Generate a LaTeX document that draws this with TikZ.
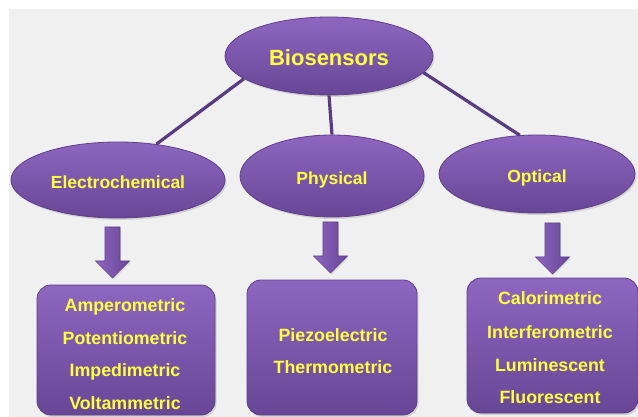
\documentclass[tikz,border=0pt]{standalone}
\usepackage{fontspec}
\setmainfont{Liberation Sans}
\usetikzlibrary{shapes.geometric,shadows}
\definecolor{bggray}{RGB}{240,240,240}
\definecolor{ptop}{RGB}{142,102,192}
\definecolor{pbot}{RGB}{104,70,150}
\definecolor{prim}{RGB}{95,62,138}
\definecolor{linecol}{RGB}{88,60,128}
\definecolor{txtyellow}{RGB}{255,255,64}
\tikzset{
  oval/.style={ellipse, draw=prim, line width=0.8pt, top color=ptop, bottom color=pbot,
    inner sep=0pt, text=txtyellow, font=\bfseries\fontsize{17.5}{20}\selectfont,
    text height=17.6pt, text depth=0pt,
    drop shadow={opacity=0.25, shadow xshift=1.5pt, shadow yshift=-2pt}},
  boxnode/.style={rectangle, rounded corners=14pt, draw=prim, line width=0.8pt,
    top color=ptop, bottom color=pbot, inner sep=0pt,
    drop shadow={opacity=0.25, shadow xshift=1.5pt, shadow yshift=-2pt}},
  itemtext/.style={text=txtyellow, font=\bfseries\fontsize{17.8}{20}\selectfont, inner sep=0pt, anchor=base},
  link/.style={draw=linecol, line width=3.2pt},
  blockarrow/.style={left color=ptop, right color=pbot, draw=prim, line width=0.6pt,
    drop shadow={opacity=0.2, shadow xshift=1pt, shadow yshift=-1.5pt}},
  pics/downarrow/.style={code={
    \path[blockarrow] (-7.5,0) -- (7.5,0) -- (7.5,34) -- (17,34) -- (0,51) -- (-17,34) -- (-7.5,34) -- cycle;
  }}
}
\begin{document}
\begin{tikzpicture}[x=1pt,y=-1pt]
\useasboundingbox (0,0) rectangle (638,417);
\fill[white] (0,0) rectangle (638,417);
\fill[bggray] (9,9) rectangle (638,417);

% top and second-level nodes
\node[oval, minimum width=208, minimum height=78, font=\bfseries\fontsize{22}{24}\selectfont, text height=19.8pt] (bio) at (329,56) {Biosensors};
\node[oval, minimum width=214, minimum height=76] (ec) at (118,180) {Electrochemical};
\node[oval, minimum width=184, minimum height=82] (phys) at (332,176) {Physical};
\node[oval, minimum width=196, minimum height=78] (opt) at (537,174) {Optical};

% connectors
\draw[link] (bio.195) -- (ec.43);
\draw[link] (bio.south) -- (phys.north);
\draw[link] (bio.350) -- (opt.114);

% boxes
\node[boxnode, minimum width=178, minimum height=130] (box1) at (126,350) {};
\node[boxnode, minimum width=170, minimum height=135] (box2) at (332,347.5) {};
\node[boxnode, minimum width=171, minimum height=135] (box3) at (552.5,345.5) {};

% arrows
\coordinate (a1) at (112.5,227);
\coordinate (a2) at (330.5,222);
\coordinate (a3) at (552.5,223);
\pic at (a1) {downarrow};
\pic at (a2) {downarrow};
\pic at (a3) {downarrow};

% box texts
\node[itemtext] (t11) at (125,312) {Amperometric};
\node[itemtext] (t12) at (125,344) {Potentiometric};
\node[itemtext] (t13) at (125,376) {Impedimetric};
\node[itemtext] (t14) at (125,409) {Voltammetric};

\node[itemtext] (t21) at (333,341) {Piezoelectric};
\node[itemtext] (t22) at (333,373) {Thermometric};

\node[itemtext] (t31) at (550,305) {Calorimetric};
\node[itemtext] (t32) at (550,338) {Interferometric};
\node[itemtext] (t33) at (550,371) {Luminescent};
\node[itemtext] (t34) at (550,403) {Fluorescent};
\end{tikzpicture}
\end{document}
